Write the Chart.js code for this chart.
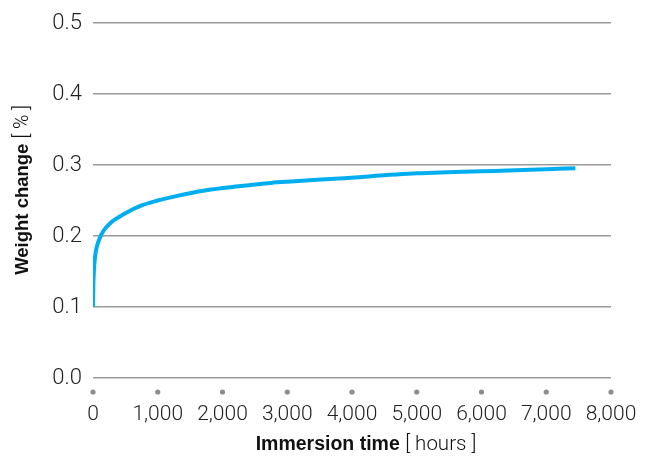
<!DOCTYPE html>
<html>
<head>
<meta charset="utf-8">
<script src="https://cdn.jsdelivr.net/npm/chart.js@4"></script>
<style>
  html, body { margin: 0; padding: 0; background: #fff; }
  #wrap { width: 652px; height: 458px; position: relative; }
</style>
</head>
<body>
<div id="wrap"><canvas id="myChart"></canvas></div>
<script>
// immersion time (hours) and weight change (%)
const hours = [0, 5, 15, 30, 60, 100, 160, 290, 500, 750, 1000, 1250, 1750, 2250, 2750, 3000, 3800, 5000, 6300, 7000, 7450];
const weightChange = [0.100, 0.130, 0.152, 0.170, 0.185, 0.196, 0.207, 0.220, 0.232, 0.243, 0.250, 0.2555, 0.2645, 0.270, 0.2748, 0.2765, 0.281, 0.2883, 0.292, 0.294, 0.2955];
const xTicks = [0, 1000, 2000, 3000, 4000, 5000, 6000, 7000, 8000];
const yTicks = [0, 0.1, 0.2, 0.3, 0.4, 0.5];

const tickFont = "Roboto";

// titles with a bold part and a plain bracket part + dots under the x axis
const decorations = {
  id: "decorations",
  afterDraw(chart) {
    const ctx = chart.ctx;
    const xs = chart.scales.x;
    ctx.save();
    ctx.fillStyle = "#8c8c8c";
    xTicks.forEach(t => {
      ctx.beginPath();
      ctx.arc(xs.getPixelForValue(t), 392, 2.6, 0, Math.PI * 2);
      ctx.fill();
    });

    function mixed(bold, plain, cx, cy, size) {
      const fb = "bold " + size + "px 'Liberation Sans'";
      const fp = "300 " + (size + 1) + "px " + tickFont;
      ctx.font = fb;
      const w1 = ctx.measureText(bold + " ").width;
      ctx.font = fp;
      const w2 = ctx.measureText(plain).width;
      let x = cx - (w1 + w2) / 2;
      ctx.fillStyle = "#111";
      ctx.textBaseline = "middle";
      ctx.textAlign = "left";
      ctx.font = fb;
      ctx.fillText(bold, x, cy);
      ctx.font = fp;
      ctx.fillText(plain, x + w1, cy);
    }
    mixed("Immersion time", "[ hours ]", 366, 445, 19.5);
    ctx.translate(23, 190);
    ctx.rotate(-Math.PI / 2);
    mixed("Weight change", "[ % ]", 0, 0, 18.5);
    ctx.restore();
  }
};

const ctx = document.getElementById("myChart").getContext("2d");
const myChart = new Chart(ctx, {
  type: "line",
  data: {
    datasets: [{
      data: hours.map((h, i) => ({ x: h, y: weightChange[i] })),
      borderColor: "#00aeef",
      borderWidth: 4,
      pointRadius: 0,
      cubicInterpolationMode: "monotone",
      fill: false
    }]
  },
  options: {
    responsive: true,
    maintainAspectRatio: false,
    animation: false,
    layout: { padding: { top: 23, right: 41, left: 0, bottom: 0 } },
    plugins: { legend: { display: false }, tooltip: { enabled: false } },
    scales: {
      x: {
        type: "linear",
        min: 0,
        max: 8000,
        afterBuildTicks: s => { s.ticks = xTicks.map(v => ({ value: v })); },
        afterFit: s => { s.height = 80; s.paddingLeft = 0; s.paddingRight = 0; },
        grid: { display: false },
        border: { display: false },
        ticks: {
          padding: 16,
          color: "#222",
          font: { family: tickFont, size: 21, weight: "300" },
          maxRotation: 0,
          callback: v => v.toLocaleString("en-US")
        }
      },
      y: {
        min: 0,
        max: 0.5,
        afterBuildTicks: s => { s.ticks = yTicks.map(v => ({ value: v })); },
        afterFit: s => { s.width = 93; s.paddingTop = 0; s.paddingBottom = 0; },
        grid: { color: "#9a9a9a", lineWidth: 1.5, drawTicks: false },
        border: { display: false },
        ticks: {
          padding: 11,
          color: "#222",
          font: { family: tickFont, size: 22, weight: "300" },
          callback: v => v.toFixed(1)
        }
      }
    }
  },
  plugins: [decorations]
});
</script>
</body>
</html>
